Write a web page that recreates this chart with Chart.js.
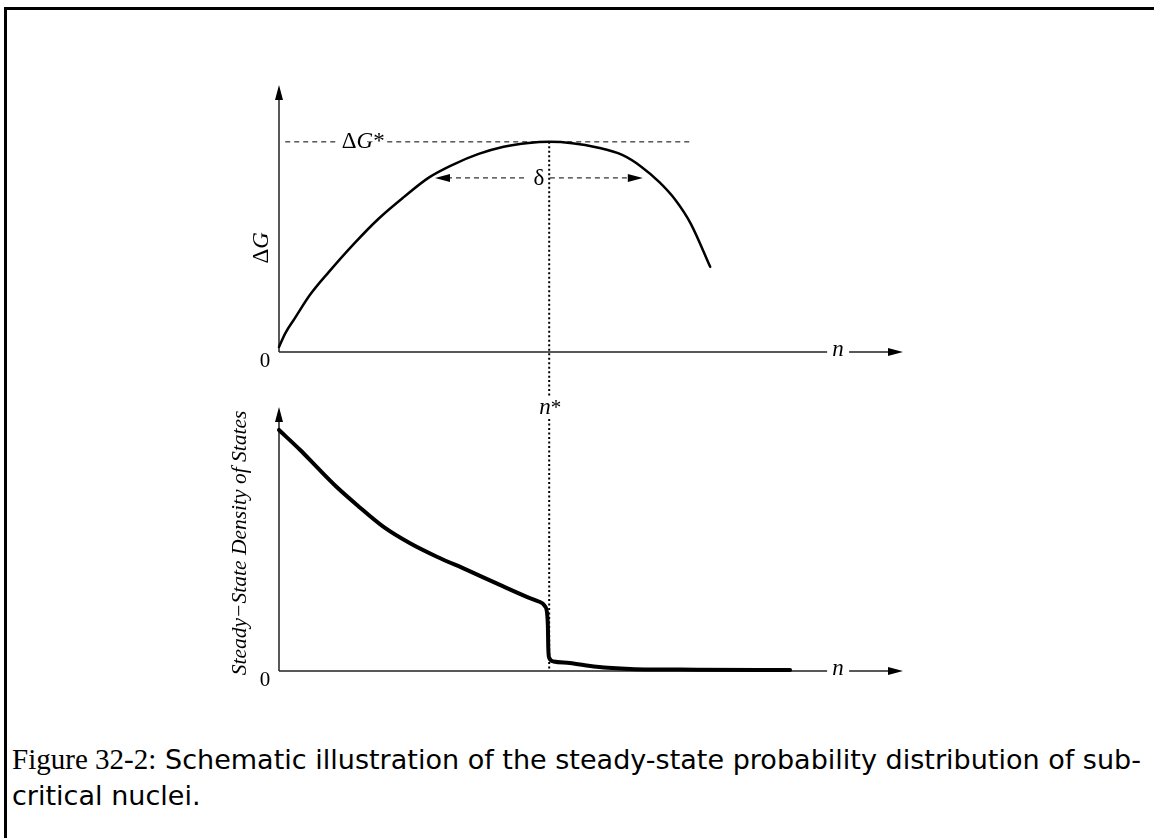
<!DOCTYPE html>
<html>
<head>
<meta charset="utf-8">
<script src="https://cdn.jsdelivr.net/npm/chart.js@4.4.1/dist/chart.umd.min.js"></script>
<style>
    body { margin: 0; background: #fff; width: 1154px; height: 838px; overflow: hidden; position: relative; }
    #frame { position: absolute; left: 4px; top: 7px; right: -10px; bottom: -10px; border-left: 3px solid #000; border-top: 3px solid #000; }
    .plot { position: absolute; left: 200px; }
    .cap { position: absolute; left: 12px; white-space: nowrap; font-family: 'DejaVu Sans'; font-size: 27px; line-height: 34px; transform-origin: 0 0; color: #000; }
    .fig { font-family: 'Liberation Serif'; font-size: 29px; }
</style>
</head>
<body>
<div id="frame"></div>
<div class="plot" style="top:60px"><canvas id="topChart" width="760" height="320"></canvas></div>
<div class="plot" style="top:380px"><canvas id="bottomChart" width="760" height="320"></canvas></div>
<div class="cap" id="cap1" style="top:742px"><span class="fig">Figure 32-2:</span> Schematic illustration of the steady-state probability distribution of sub-</div>
<div class="cap" id="cap2" style="top:779px">critical nuclei.</div>

<script>
// free energy curve (top)
const nTop = [0, 1, 2.5, 5, 8, 12, 16, 20, 24, 28, 32, 36, 40, 43.3, 47, 51, 55, 58, 61, 63.5, 66, 69.1];
const dG = [1.9, 7, 12.5, 21.5, 30, 40.5, 50, 58, 65.3, 70.3, 74.2, 76.9, 78.3, 78.7, 78.2, 76.6, 73.8, 69.5, 63.5, 57, 48, 31.9];

// steady-state density of states (bottom)
const nBottom = [0, 3.4, 6.0, 9.2, 12.5, 16.7, 21.0, 25.3, 30.1, 35.4, 39.7, 41.5, 42.6, 43.0, 43.1, 43.15, 43.3, 44.0, 46.6, 50.9, 56.3, 66.9, 81.9];
const density = [91.3, 83.7, 77.4, 69.8, 62.9, 54.7, 48.4, 43.3, 38.3, 32.6, 28.1, 26.4, 24.6, 21, 16, 9, 5, 3.6, 3.0, 1.6, 0.8, 0.5, 0.4];

// markers
const nStar = 43.3;
const dGStar = 78.7;
const dGStarLine = [1.0, 65.9];      // dashed line extent along n
const dGStarLabelN = 13.5;
const deltaRange = [25.0, 58.3];
const deltaY = 65.2;
const nLabelPos = 89.6;              // where "n" sits on the x axes
const xMax = 100, yMax = 100;

const serif = '"Liberation Serif", "Times New Roman", serif';

function toPoints(xs, ys) {
    return xs.map((x, i) => ({ x: x, y: ys[i] }));
}

function arrowHead(ctx, x, y, dir) {
    ctx.beginPath();
    if (dir === 'up') {
        ctx.moveTo(x, y); ctx.lineTo(x - 4, y + 15); ctx.lineTo(x + 4, y + 15);
    } else if (dir === 'right') {
        ctx.moveTo(x, y); ctx.lineTo(x - 15, y - 4); ctx.lineTo(x - 15, y + 4);
    } else {
        ctx.moveTo(x, y); ctx.lineTo(x + 15, y - 4); ctx.lineTo(x + 15, y + 4);
    }
    ctx.closePath();
    ctx.fill();
}

// draws pieces of text in a row, centered at (x, y)
function drawRuns(ctx, runs, x, y) {
    let total = 0;
    runs.forEach(r => { ctx.font = r[1]; total += ctx.measureText(r[0]).width; });
    let cx = x - total / 2;
    ctx.textAlign = 'left';
    ctx.textBaseline = 'middle';
    runs.forEach(r => {
        ctx.font = r[1];
        ctx.fillText(r[0], cx, y);
        cx += ctx.measureText(r[0]).width;
    });
}

function drawAxes(chart) {
    let ctx = chart.ctx, xs = chart.scales.x, ys = chart.scales.y;
    let x0 = xs.getPixelForValue(0), x1 = xs.getPixelForValue(xMax);
    let y0 = ys.getPixelForValue(0), y1 = ys.getPixelForValue(yMax);
    let nx = xs.getPixelForValue(nLabelPos);
    ctx.save();
    ctx.strokeStyle = '#222';
    ctx.fillStyle = '#000';
    ctx.lineWidth = 1.5;
    ctx.beginPath();
    ctx.moveTo(x0, y0); ctx.lineTo(x0, y1 + 10);
    ctx.moveTo(x0, y0); ctx.lineTo(nx - 11, y0);
    ctx.moveTo(nx + 11, y0); ctx.lineTo(x1 - 10, y0);
    ctx.stroke();
    arrowHead(ctx, x0, y1, 'up');
    arrowHead(ctx, x1, y0, 'right');
    drawRuns(ctx, [['n', 'italic 23px ' + serif]], nx, y0 - 2);
    drawRuns(ctx, [['0', '21px ' + serif]], x0 - 14, y0 + 9);
    ctx.restore();
}

const topGuides = {
    id: 'topGuides',
    beforeDatasetsDraw(chart) {
        drawAxes(chart);
        let ctx = chart.ctx, xs = chart.scales.x, ys = chart.scales.y;
        let yS = ys.getPixelForValue(dGStar);
        let lx = xs.getPixelForValue(dGStarLabelN);
        ctx.save();
        ctx.strokeStyle = '#000';
        ctx.fillStyle = '#000';
        ctx.lineWidth = 1;
        ctx.setLineDash([5, 4]);
        ctx.beginPath();
        ctx.moveTo(xs.getPixelForValue(dGStarLine[0]), yS); ctx.lineTo(lx - 24, yS);
        ctx.moveTo(lx + 24, yS); ctx.lineTo(xs.getPixelForValue(dGStarLine[1]), yS);
        // delta arrow
        let yd = ys.getPixelForValue(deltaY);
        let dl = xs.getPixelForValue(deltaRange[0]), dr = xs.getPixelForValue(deltaRange[1]);
        let dc = (dl + dr) / 2;
        ctx.moveTo(dl + 12, yd); ctx.lineTo(dc - 11, yd);
        ctx.moveTo(dc + 11, yd); ctx.lineTo(dr - 12, yd);
        ctx.stroke();
        ctx.setLineDash([]);
        arrowHead(ctx, dl, yd, 'left');
        arrowHead(ctx, dr, yd, 'right');
        drawRuns(ctx, [['δ', '23px ' + serif]], dc, yd + 1);
        drawRuns(ctx, [['Δ', '23px ' + serif], ['G', 'italic 23px ' + serif], ['*', '23px ' + serif]], lx, yS);
        // dotted n* line
        let xn = xs.getPixelForValue(nStar);
        ctx.lineWidth = 2;
        ctx.setLineDash([2, 2.5]);
        ctx.beginPath();
        ctx.moveTo(xn, yS); ctx.lineTo(xn, chart.height);
        ctx.stroke();
        ctx.setLineDash([]);
        // y label
        ctx.translate(xs.getPixelForValue(0) - 17, ys.getPixelForValue(39));
        ctx.rotate(-Math.PI / 2);
        drawRuns(ctx, [['Δ', '23px ' + serif], ['G', 'italic 23px ' + serif]], 0, 0);
        ctx.restore();
    }
};

const bottomGuides = {
    id: 'bottomGuides',
    beforeDatasetsDraw(chart) {
        drawAxes(chart);
        let ctx = chart.ctx, xs = chart.scales.x, ys = chart.scales.y;
        let xn = xs.getPixelForValue(nStar);
        let yl = ys.getPixelForValue(yMax) + 1;
        ctx.save();
        ctx.strokeStyle = '#000';
        ctx.fillStyle = '#000';
        ctx.lineWidth = 2;
        ctx.setLineDash([2, 2.5]);
        ctx.beginPath();
        ctx.moveTo(xn, 0); ctx.lineTo(xn, yl - 12);
        ctx.moveTo(xn, yl + 11); ctx.lineTo(xn, ys.getPixelForValue(0));
        ctx.stroke();
        ctx.setLineDash([]);
        drawRuns(ctx, [['n', 'italic 23px ' + serif], ['*', '21px ' + serif]], xn + 1, yl);
        ctx.translate(xs.getPixelForValue(0) - 39, ys.getPixelForValue(48.5));
        ctx.rotate(-Math.PI / 2);
        drawRuns(ctx, [['Steady\u2212State Density of States', 'italic 21.5px ' + serif]], 0, 0);
        ctx.restore();
    }
};

function makeChart(id, pts, width, plugin, padTop, padBottom) {
    return new Chart(document.getElementById(id).getContext('2d'), {
        type: 'line',
        data: {
            datasets: [{
                data: pts,
                borderColor: '#000',
                borderWidth: width,
                borderCapStyle: 'round',
                borderJoinStyle: 'round',
                pointRadius: 0,
                tension: 0.4,
                cubicInterpolationMode: 'monotone',
                fill: false,
                clip: false
            }]
        },
        options: {
            responsive: false,
            animation: false,
            events: [],
            layout: { padding: { left: 79, right: 57, top: padTop, bottom: padBottom } },
            elements: { line: { capBezierPoints: false } },
            plugins: { legend: { display: false }, tooltip: { enabled: false } },
            scales: {
                x: { type: 'linear', min: 0, max: xMax, display: false },
                y: { type: 'linear', min: 0, max: yMax, display: false }
            }
        },
        plugins: [plugin]
    });
}

makeChart('topChart', toPoints(nTop, dG), 2.5, topGuides, 25, 28);
makeChart('bottomChart', toPoints(nBottom, density), 4, bottomGuides, 27, 29);

// fit caption to its printed width
let cap1 = document.getElementById('cap1');
let cap2 = document.getElementById('cap2');
let k = 1129 / cap1.getBoundingClientRect().width;
cap1.style.transform = `scaleX(${k})`;
cap2.style.transform = `scaleX(${k})`;
</script>
</body>
</html>
